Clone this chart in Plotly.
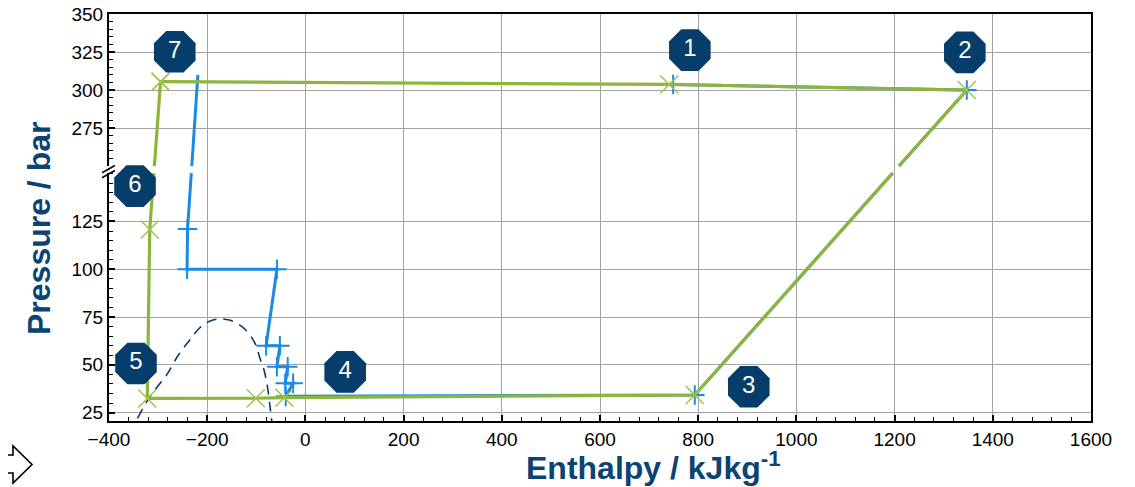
import numpy as np
import plotly.graph_objects as go

# ---------------- data (enthalpy kJ/kg, pressure bar) ----------------
green_h = [-295, 741, 1347, 793, -43, -101, -322, -317, -295]
green_p = [305.5, 303.7, 300, 34.2, 32.8, 32.5, 32.4, 120.8, 305.5]

blue_h = [-219, -240, -241, -58, -80, -52, -58, -36, -41, -25, -40, 793, 1347, 749]
blue_p = [310, 121, 100, 100, 60, 60, 49, 49, 40.3, 40.3, 33.5, 34.2, 300, 303.7]

dome_h = [-342, -316, -283, -259, -237, -215, -195, -175, -155, -135, -120, -103, -92, -84, -77, -72, -68.5]
dome_p = [22, 33.6, 44.6, 55, 62.5, 69.4, 72.8, 74, 73.4, 71, 67.8, 61.5, 53, 47, 38, 28, 20.5]

state_labels = ["1", "2", "3", "4", "5", "6", "7"]
state_h = [783, 1343, 903, 81, -345, -347, -266]
state_p = [326.3, 324.8, 38.5, 46.3, 50.7, 143.5, 325.2]

x_ticks = [-400, -200, 0, 200, 400, 600, 800, 1000, 1200, 1400, 1600]
y_ticks = [25, 50, 75, 100, 125, 275, 300, 325, 350]

# ---------------- broken pressure axis ----------------
LOW_MIN, LOW_MAX = 20.6, 150.3
UP_MIN, UP_MAX = 250, 350
UP_START = 154.0
UP_SCALE = 0.795


def brk(p):
    p = np.asarray(p, dtype=float)
    return np.where(p >= 200, UP_START + (p - UP_MIN) * UP_SCALE, p)


def split_at_break(h, p):
    """Axis-break aware polyline: lines are interrupted inside the break gap."""
    d = brk(p)
    xs, ys = [h[0]], [float(d[0])]
    for i in range(1, len(h)):
        x0, y0, x1, y1 = h[i - 1], float(d[i - 1]), h[i], float(d[i])
        if min(y0, y1) < LOW_MAX and max(y0, y1) > UP_START:
            first, second = (LOW_MAX, UP_START) if y1 > y0 else (UP_START, LOW_MAX)
            xa = x0 + (first - y0) / (y1 - y0) * (x1 - x0)
            xb = x0 + (second - y0) / (y1 - y0) * (x1 - x0)
            xs += [xa, None, xb]
            ys += [first, None, second]
        xs.append(x1)
        ys.append(y1)
    return xs, ys


Y_TOP = float(brk([UP_MAX])[0]) + 0.05

NAVY = "#063d6b"
TITLE = "#0b4372"
GREEN = "#8db53b"
GREEN_X = "#a3c447"
BLUE = "#1a8ae6"
GRID = "#a3a3a3"
FONT = "Liberation Sans, Arial, sans-serif"

# page offset of the figure (browser default body margin)
W, H = 1127, 479
ML, MR, MT, MB = 101, 44, 6, 66
PW, PH = W - ML - MR, H - MT - MB


def px(xp):  # page x pixel -> paper x
    return (xp - 8 - ML) / PW


def py(yp):  # page y pixel -> paper y
    return (H - MB - (yp - 8)) / PH


fig = go.Figure()

# saturation dome
fig.add_trace(go.Scatter(x=dome_h, y=brk(dome_p), mode="lines",
                         line=dict(color=NAVY, width=1.6, dash="10px,7px"),
                         line_shape="spline", hoverinfo="skip", showlegend=False))

# blue cycle
bx, by = split_at_break(blue_h, blue_p)
fig.add_trace(go.Scatter(x=bx, y=by, mode="lines", connectgaps=False,
                         line=dict(color=BLUE, width=3), showlegend=False))
fig.add_trace(go.Scatter(x=blue_h[1:], y=brk(blue_p[1:]), mode="markers",
                         marker=dict(symbol="cross-thin", size=14,
                                     line=dict(color=BLUE, width=2)),
                         showlegend=False))

# green cycle
gx, gy = split_at_break(green_h, green_p)
fig.add_trace(go.Scatter(x=gx, y=gy, mode="lines", connectgaps=False,
                         line=dict(color=GREEN, width=3.2), showlegend=False))
fig.add_trace(go.Scatter(x=green_h, y=brk(green_p), mode="markers",
                         marker=dict(symbol="x-thin", size=18,
                                     line=dict(color=GREEN_X, width=1.5)),
                         showlegend=False))

# state badges
fig.add_trace(go.Scatter(x=state_h, y=brk(state_p), mode="markers+text",
                         text=state_labels, textposition="middle center",
                         textfont=dict(color="white", size=24, family=FONT),
                         marker=dict(symbol="octagon", size=45, color=NAVY,
                                     line=dict(width=0)),
                         cliponaxis=False, showlegend=False))

# ---------------- axis-break decorations ----------------
shapes = []
shapes.append(dict(type="rect", xref="paper", yref="y",
                   x0=-0.006, x1=0.004, y0=LOW_MAX, y1=UP_START,
                   fillcolor="white", line=dict(width=0), layer="above"))
for off in (0.0, 2.6):
    shapes.append(dict(type="line", xref="paper", yref="y",
                       x0=-0.007, x1=0.006,
                       y0=LOW_MAX - 2.4 + off, y1=LOW_MAX + 1.4 + off,
                       line=dict(color="black", width=1.6), layer="above"))

# outline arrow at the bottom-left corner
arrow = [(-12, 455), (13, 455), (13, 446), (32, 464.5), (13, 483), (13, 473), (-12, 473)]
path = "M " + " L ".join(f"{px(a):.5f},{py(b):.5f}" for a, b in arrow) + " Z"
shapes.append(dict(type="path", xref="paper", yref="paper", path=path,
                   fillcolor="white", line=dict(color="black", width=1.6),
                   layer="above"))

minor_y = [v for v in range(25, 151, 5)] + [v for v in range(250, 351, 5)]

fig.update_layout(
    width=W, height=H,
    margin=dict(l=ML, r=MR, t=MT, b=MB, autoexpand=False),
    paper_bgcolor="white", plot_bgcolor="white",
    font=dict(family=FONT, size=19, color="black"),
    shapes=shapes,
    xaxis=dict(range=[-400, 1600], tickvals=x_ticks, automargin=False,
               ticklabeloverflow="allow",
               showgrid=True, gridcolor=GRID, gridwidth=1.2,
               showline=True, linecolor="black", linewidth=2, mirror=True,
               ticks="inside", ticklen=6, tickwidth=1.5, tickcolor="black",
               minor=dict(dtick=40, tick0=-400, ticks="inside", ticklen=4,
                          tickwidth=1.3, tickcolor="black", showgrid=False),
               zeroline=False, tickfont=dict(size=19, family=FONT)),
    yaxis=dict(range=[LOW_MIN, Y_TOP], tickmode="array", automargin=False,
               ticklabeloverflow="allow",
               tickvals=list(brk(y_ticks)), ticktext=[str(v) for v in y_ticks],
               showgrid=True, gridcolor=GRID, gridwidth=1.2,
               showline=True, linecolor="black", linewidth=2, mirror=True,
               ticks="inside", ticklen=6, tickwidth=1.5, tickcolor="black",
               minor=dict(tickmode="array", tickvals=list(brk(minor_y)),
                          ticks="inside", ticklen=4, tickwidth=1.3,
                          tickcolor="black", showgrid=False),
               zeroline=False, tickfont=dict(size=19, family=FONT)),
    annotations=[
        dict(text="<b>Pressure / bar</b>", textangle=-90, xref="paper", yref="paper",
             x=px(39), y=py(229), xanchor="center", yanchor="middle", showarrow=False,
             font=dict(size=32, color=TITLE, family=FONT)),
        dict(text="<b>Enthalpy / kJkg<sup>-1</sup></b>", xref="paper", yref="paper",
             x=px(653.5), y=py(466), xanchor="center", yanchor="middle", showarrow=False,
             font=dict(size=32, color=TITLE, family=FONT)),
    ],
)

fig.write_html("out.html")
